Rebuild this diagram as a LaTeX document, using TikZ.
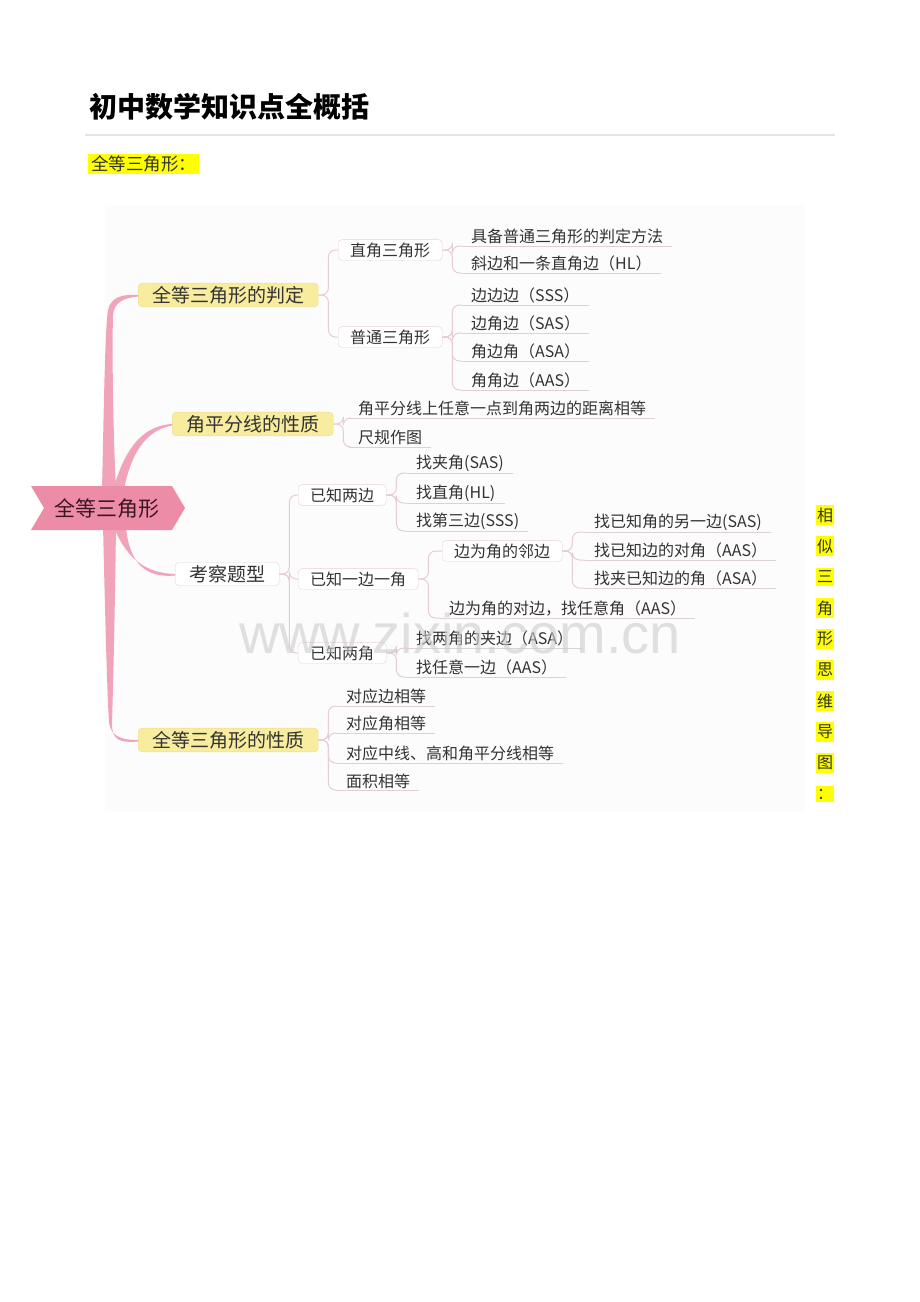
\documentclass[tikz,border=0pt]{standalone}
\usepackage{fontspec}
\usepackage{tikz}
\usetikzlibrary{shapes,arrows,positioning}
\newfontfamily\cjk{Noto Sans CJK SC}
\newfontfamily\wmfont{Liberation Sans}
\definecolor{trunk}{HTML}{F0A3B9}
\definecolor{rootfill}{HTML}{EC8CA6}
\definecolor{roottext}{HTML}{3C1524}
\definecolor{topicfill}{HTML}{F8EC9E}
\definecolor{topicline}{HTML}{EADB93}
\definecolor{subline}{HTML}{E7D3D9}
\definecolor{conn}{HTML}{E6CCD4}
\definecolor{ink}{HTML}{333333}
\definecolor{uline}{HTML}{DCD2D5}
\definecolor{hl}{HTML}{FFFF00}

\begin{document}
\begin{tikzpicture}[x=1pt,y=-1pt,line join=round]
\tikzstyle{every node}=[font=\cjk,text=ink]
\tikzstyle{topic}=[anchor=west,draw=topicline,fill=topicfill,rounded corners=4pt,inner xsep=14pt,inner ysep=3pt,font=\cjk\fontsize{19}{20}\selectfont]
\tikzstyle{plain}=[topic,draw=subline,fill=white]
\tikzstyle{sub}=[anchor=west,draw=subline,fill=white,rounded corners=4pt,inner xsep=12pt,inner ysep=3pt,font=\cjk\fontsize{16}{18}\selectfont]
\tikzstyle{leaf}=[anchor=south west,inner xsep=9pt,inner ysep=1.5pt,font=\cjk\fontsize{16}{18}\selectfont]
\tikzstyle{link}=[draw=conn,line width=1pt,rounded corners=7pt,to path={-- ++(10,0) |- (\tikztotarget)}]
\useasboundingbox (0,0) rectangle (920,1302);

\node[anchor=west,text=black,font=\cjk\bfseries\fontsize{28}{30}\selectfont] (title) at (86,107) {初中数学知识点全概括};
\draw[black!10,line width=1.2pt] (85,135) -- (835,135);
\node[anchor=west,fill=hl,inner xsep=3pt,inner ysep=2pt,font=\cjk\fontsize{17.5}{19}\selectfont] (sec) at (88,164) {全等三角形：};

\fill[black!1] (105,205) rectangle (805,812);

\node[topic] (pd) at (138,295) {全等三角形的判定};
\node[topic] (jp) at (172,424) {角平分线的性质};
\node[plain] (kc) at (175,574) {考察题型};
\node[topic] (xz) at (138,740) {全等三角形的性质};

\fill[trunk] (102,490) .. controls (104,400) and (105,330) .. (108,310) .. controls (111,297) and (122,294) .. (pd.west) -- ++(0,1.5) .. controls (124,298) and (114,302) .. (113,315) .. controls (112,350) and (113,430) .. (116,490) -- cycle;
\fill[trunk] (103,525) .. controls (105,610) and (107,690) .. (109,722) .. controls (111,737) and (122,740) .. (xz.west) -- ++(0,1.5) .. controls (120,743) and (112,740) .. (112,724) .. controls (113,690) and (115,610) .. (116,525) -- cycle;
\fill[trunk] (113,490) .. controls (124,452) and (140,426) .. (jp.west) -- ++(0,1.5) .. controls (145,430) and (130,456) .. (124,490) -- cycle;
\fill[trunk] (114,528) .. controls (128,560) and (146,573) .. (kc.west) -- ++(0,1.5) .. controls (148,578) and (130,566) .. (126,528) -- cycle;

\fill[rootfill] (31,486) -- (172,486) -- (185,508) -- (172,530) -- (31,530) -- (44,508) -- cycle;
\node[text=roottext,font=\cjk\fontsize{21}{22}\selectfont] (root) at (107,508) {全等三角形};

\node[sub] (zj) at (338,250) {直角三角形};
\node[sub] (pt) at (338,337) {普通三角形};
\node[sub] (lb) at (298,495) {已知两边};
\node[sub] (yb) at (298,579) {已知一边一角};
\node[sub] (lj) at (298,653) {已知两角};
\node[sub] (lin) at (442,551) {边为角的邻边};

\node[leaf] (zj1) at (462,246) {具备普通三角形的判定方法};
\node[leaf] (zj2) at (462,273) {斜边和一条直角边（HL）};
\node[leaf] (pt1) at (462,305) {边边边（SSS）};
\node[leaf] (pt2) at (462,333) {边角边（SAS）};
\node[leaf] (pt3) at (462,361) {角边角（ASA）};
\node[leaf] (pt4) at (462,390) {角角边（AAS）};
\node[leaf] (jp1) at (349,418) {角平分线上任意一点到角两边的距离相等};
\node[leaf] (jp2) at (349,447) {尺规作图};
\node[leaf] (lb1) at (407,473) {找夹角(SAS)};
\node[leaf] (lb2) at (407,503) {找直角(HL)};
\node[leaf] (lb3) at (407,531) {找第三边(SSS)};
\node[leaf] (lin1) at (585,532) {找已知角的另一边(SAS)};
\node[leaf] (lin2) at (585,560) {找已知边的对角（AAS）};
\node[leaf] (lin3) at (585,588) {找夹已知边的角（ASA）};
\node[leaf] (yb2) at (440,618) {边为角的对边，找任意角（AAS）};
\node[leaf] (lj1) at (407,648) {找两角的夹边（ASA）};
\node[leaf] (lj2) at (407,677) {找任意一边（AAS）};
\node[leaf] (xz1) at (337,706) {对应边相等};
\node[leaf] (xz2) at (337,733) {对应角相等};
\node[leaf] (xz3) at (337,763) {对应中线、高和角平分线相等};
\node[leaf] (xz4) at (337,790) {面积相等};

\foreach \n in {zj1,zj2,pt1,pt2,pt3,pt4,jp1,jp2,lb1,lb2,lb3,lin1,lin2,lin3,yb2,lj1,lj2,xz1,xz2,xz3,xz4}
  \draw[uline,line width=1pt] (\n.south west) -- (\n.south east);

\path (pd.east) edge[link] (zj.west) edge[link] (pt.west)
      (zj.east) edge[link] (zj1.south west) edge[link] (zj2.south west)
      (pt.east) edge[link] (pt1.south west) edge[link] (pt2.south west)
                edge[link] (pt3.south west) edge[link] (pt4.south west)
      (jp.east) edge[link] (jp1.south west) edge[link] (jp2.south west)
      (kc.east) edge[link] (lb.west) edge[link] (yb.west) edge[link] (lj.west)
      (lb.east) edge[link] (lb1.south west) edge[link] (lb2.south west) edge[link] (lb3.south west)
      (yb.east) edge[link] (lin.west) edge[link] (yb2.south west)
      (lin.east) edge[link] (lin1.south west) edge[link] (lin2.south west) edge[link] (lin3.south west)
      (lj.east) edge[link] (lj1.south west) edge[link] (lj2.south west)
      (xz.east) edge[link] (xz1.south west) edge[link] (xz2.south west)
                edge[link] (xz3.south west) edge[link] (xz4.south west);

\foreach \c [count=\i from 0] in {相,似,三,角,形,思,维,导,图,：}
  \node[fill=hl,inner xsep=1pt,inner ysep=3pt,font=\cjk\fontsize{16}{18}\selectfont] (v\i) at (825,515+31*\i) {\c};

\node[font=\wmfont\fontsize{56}{60}\selectfont,text=black!20,opacity=0.6] (wm) at (460,633) {www.zixin.com.cn};
\end{tikzpicture}
\end{document}
